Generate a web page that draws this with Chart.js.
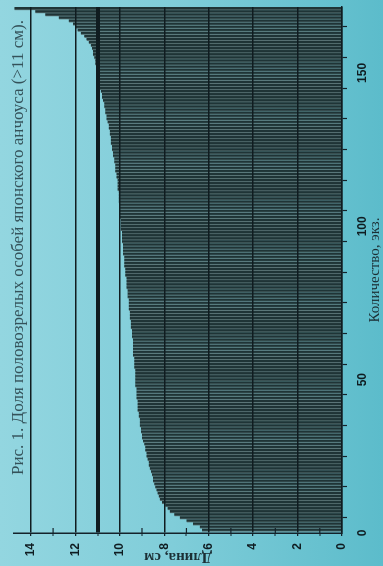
<!DOCTYPE html>
<html>
<head>
<meta charset="utf-8">
<script src="https://cdn.jsdelivr.net/npm/chart.js@4/dist/chart.umd.min.js"></script>
<style>
  html, body {
    margin: 0;
    padding: 0;
    width: 383px;
    height: 566px;
    overflow: hidden;
    background: linear-gradient(90deg, #93d6e0 0%, #80cdd9 45%, #5cbccb 100%);
  }
  /* the figure is laid out landscape and turned a quarter turn to fit the portrait page */
  #frame {
    position: absolute;
    left: 0;
    top: 0;
    width: 566px;
    height: 383px;
    transform-origin: 0 0;
    transform: translate(0, 566px) rotate(-90deg);
  }
  canvas { display: block; }
</style>
</head>
<body>
<div id="frame"><canvas id="c" width="566" height="383"></canvas></div>
<script>
const figureTitle = 'Рис. 1. Доля половозрелых особей японского анчоуса (>11 см).';
const lengthAxisTitle = 'Длина, см';
const countAxisTitle = 'Количество, экз.';
const maturityThreshold = 11;
const lengthTickLabels = ['0', '2', '4', '6', '8', '10', '12', '14'];
const countTickLabels = ['0', '50', '100', '150'];

// body length of each fish, cm, sorted from shortest to longest
const fishLengths = [
  6.3, 6.4, 6.7, 7.0, 7.3, 7.55, 7.75, 7.85, 7.95, 8.1,
  8.2, 8.25, 8.3, 8.35, 8.4, 8.45, 8.5, 8.5, 8.55, 8.6,
  8.65, 8.7, 8.7, 8.75, 8.8, 8.8, 8.85, 8.85, 8.9, 8.95,
  9.0, 9.0, 9.05, 9.05, 9.1, 9.1, 9.1, 9.15, 9.15, 9.2,
  9.2, 9.2, 9.2, 9.25, 9.25, 9.25, 9.25, 9.3, 9.3, 9.3,
  9.3, 9.3, 9.3, 9.35, 9.35, 9.35, 9.35, 9.4, 9.4, 9.4,
  9.4, 9.4, 9.4, 9.45, 9.45, 9.45, 9.5, 9.5, 9.5, 9.55,
  9.55, 9.55, 9.6, 9.6, 9.6, 9.6, 9.65, 9.65, 9.65, 9.7,
  9.7, 9.7, 9.7, 9.75, 9.75, 9.75, 9.8, 9.8, 9.8, 9.8,
  9.85, 9.85, 9.85, 9.85, 9.9, 9.9, 9.9, 9.9, 9.95, 9.95,
  9.95, 9.95, 10.0, 10.0, 10.0, 10.0, 10.0, 10.05, 10.05, 10.05,
  10.05, 10.1, 10.1, 10.1, 10.1, 10.15, 10.15, 10.2, 10.2, 10.2,
  10.25, 10.25, 10.3, 10.3, 10.35, 10.35, 10.4, 10.4, 10.4, 10.45,
  10.45, 10.5, 10.5, 10.55, 10.6, 10.6, 10.65, 10.65, 10.7, 10.7,
  10.75, 10.8, 10.8, 10.85, 10.9, 10.9, 10.95, 10.95, 11.0, 11.0,
  11.0, 11.05, 11.1, 11.1, 11.15, 11.2, 11.2, 11.25, 11.3, 11.4,
  11.5, 11.6, 11.75, 11.9, 12.0, 12.1, 12.3, 12.75, 13.35, 13.8, 14.75
];

const inkDark = '#14222a';
const labelInk = '#0f1d22';

// short inward marks at the odd centimetres of the length axis
const minorLengthTicks = {
  id: 'minorLengthTicks',
  afterDatasetsDraw(chart) {
    const { ctx, chartArea, scales: { y } } = chart;
    ctx.save();
    ctx.strokeStyle = inkDark;
    ctx.lineWidth = 1.2;
    y.ticks.forEach(t => {
      if (t.value % 2 !== 0 && t.value !== maturityThreshold) {
        const p = y.getPixelForValue(t.value);
        ctx.beginPath();
        ctx.moveTo(chartArea.left, p);
        ctx.lineTo(chartArea.left + 5, p);
        ctx.stroke();
      }
    });
    ctx.restore();
  }
};

// figure caption written inside the top of the plot
const figureCaption = {
  id: 'figureCaption',
  afterDraw(chart) {
    const { ctx, chartArea } = chart;
    ctx.save();
    ctx.font = '17px "Liberation Serif"';
    ctx.fillStyle = '#34525a';
    ctx.textAlign = 'left';
    ctx.textBaseline = 'alphabetic';
    ctx.fillText(figureTitle, chartArea.left + 58, 23);
    ctx.restore();
  }
};

new Chart(document.getElementById('c'), {
  type: 'bar',
  data: {
    datasets: [{
      data: fishLengths.map((v, i) => ({ x: i + 1, y: v })),
      backgroundColor: '#1f3436',
      borderColor: '#5a7476',
      borderWidth: { left: 1, right: 0, top: 0, bottom: 0 },
      borderSkipped: false,
      barPercentage: 1,
      categoryPercentage: 1
    }]
  },
  options: {
    responsive: false,
    devicePixelRatio: 1,
    animation: false,
    layout: { padding: { top: 11, right: 7, left: 0, bottom: 0 } },
    plugins: {
      legend: { display: false },
      tooltip: { enabled: false }
    },
    scales: {
      x: {
        type: 'linear',
        min: 0,
        max: 171.5,
        offset: false,
        grid: {
          drawOnChartArea: false,
          drawTicks: true,
          tickLength: 5,
          tickColor: inkDark,
          tickWidth: 1.2
        },
        border: { color: inkDark, width: 1.5, z: 1 },
        ticks: {
          stepSize: 10,
          includeBounds: false,
          autoSkip: false,
          maxRotation: 0,
          minRotation: 0,
          padding: 8,
          color: labelInk,
          font: { family: 'Liberation Sans', weight: 'bold', size: 12 },
          callback: v => countTickLabels.includes(String(v)) ? String(v) : ''
        },
        title: {
          display: true,
          text: countAxisTitle,
          color: '#1b2f35',
          font: { family: 'Liberation Serif', size: 15 },
          padding: { top: 0, bottom: -1 }
        },
        afterFit: s => { s.height = 41; }
      },
      y: {
        min: 0,
        max: 14.75,
        grid: {
          z: 1,
          color: c => (c.tick && (c.tick.value % 2 === 0 || c.tick.value === maturityThreshold)) ? '#101c20' : 'rgba(0,0,0,0)',
          lineWidth: c => !c.tick ? 0 : (c.tick.value === maturityThreshold ? 4 : (c.tick.value % 2 === 0 ? 1.4 : 0)),
          drawTicks: true,
          tickLength: 3,
          tickColor: inkDark,
          tickWidth: 1.2
        },
        border: { color: inkDark, width: 1.5, z: 1 },
        ticks: {
          stepSize: 1,
          includeBounds: false,
          autoSkip: false,
          padding: 7,
          color: labelInk,
          font: { family: 'Liberation Sans', weight: 'bold', size: 12 },
          callback: v => lengthTickLabels.includes(String(v)) ? String(v) : ''
        },
        title: {
          display: true,
          text: lengthAxisTitle,
          color: '#1b2f35',
          font: { family: 'Liberation Serif', weight: 'bold', size: 15 },
          padding: { top: 0, bottom: 0 }
        },
        afterFit: s => { s.width = 33; }
      }
    }
  },
  plugins: [minorLengthTicks, figureCaption]
});
</script>
</body>
</html>
